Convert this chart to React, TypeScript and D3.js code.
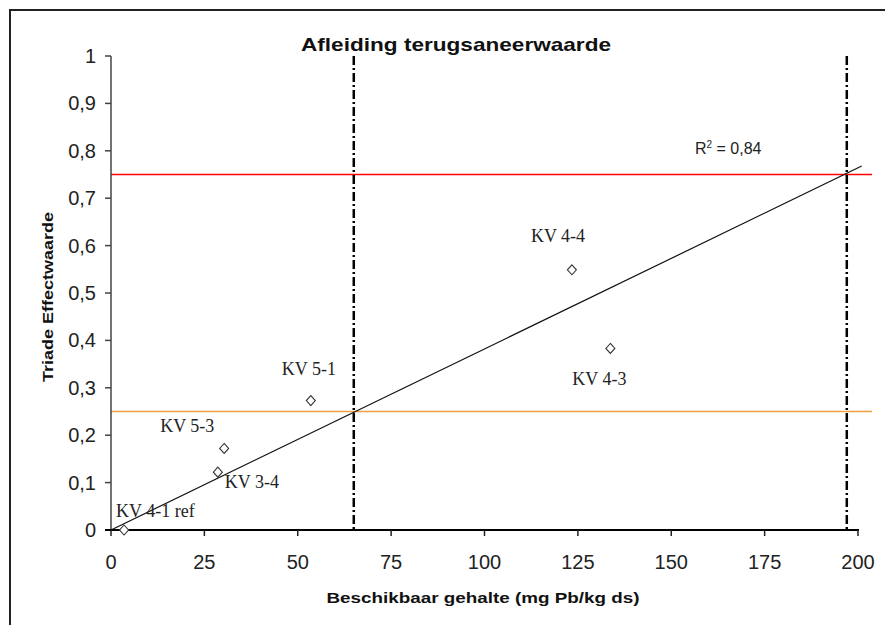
import React from "react";
import * as d3 from "d3";

const pointLabels = ["KV 4-1 ref", "KV 3-4", "KV 5-3", "KV 5-1", "KV 4-4", "KV 4-3"];
const xValues = [3.5, 28.6, 30.3, 53.5, 123.4, 133.7];
const yValues = [0.0, 0.122, 0.172, 0.273, 0.549, 0.383];
const xTicks = [0, 25, 50, 75, 100, 125, 150, 175, 200];
const yTicks = [0, 0.1, 0.2, 0.3, 0.4, 0.5, 0.6, 0.7, 0.8, 0.9, 1];
const xThresholds = [65, 197];
const yThresholdLow = 0.25;
const yThresholdHigh = 0.75;
const trendSlope = 0.00382; // fitted through origin
const trendXEnd = 201;
const r2Text = "0,84";
const title = "Afleiding terugsaneerwaarde";
const xTitle = "Beschikbaar gehalte (mg Pb/kg ds)";
const yTitle = "Triade Effectwaarde";

// label placement (offsets in px relative to point)
const labelOffsets: [number, number][] = [
  [-8, -13],
  [7, 16],
  [-64, -16],
  [-29, -26],
  [-41, -28],
  [-38, 37],
];

export default function App() {
  const W = 885;
  const H = 625;
  const x = d3.scaleLinear().domain([0, 200]).range([111, 858]);
  const y = d3.scaleLinear().domain([0, 1]).range([530, 56]);
  const fmtY = (v: number) => (v === 0 || v === 1 ? String(v) : d3.format(".1f")(v).replace(".", ","));
  const sans = "'Liberation Sans', Arial, sans-serif";
  const serif = "'Liberation Serif', 'Times New Roman', serif";
  const diamondPath = "M0,-5L4.5,0L0,5L-4.5,0Z";
  const trendLine = d3.line<number>().x((d) => x(d)).y((d) => y(d * trendSlope));

  return (
    <svg width={W} height={H} style={{ position: "absolute", left: 0, top: 0, background: "#fff" }}>
      {/* frame */}
      <line x1={10} y1={10} x2={10} y2={H} stroke="#222" strokeWidth={2} />
      <line x1={9} y1={10} x2={W} y2={10} stroke="#222" strokeWidth={2} />

      {/* title */}
      <text x={456} y={51} textAnchor="middle" fontFamily={sans} fontWeight="bold" fontSize={19}
        textLength={310} lengthAdjust="spacingAndGlyphs" fill="#111">{title}</text>

      {/* threshold lines */}
      <line x1={x(0)} x2={872} y1={y(yThresholdHigh)} y2={y(yThresholdHigh)} stroke="#ff0000" strokeWidth={1.6} />
      <line x1={x(0)} x2={872} y1={y(yThresholdLow)} y2={y(yThresholdLow)} stroke="#f0a040" strokeWidth={1.4} />
      {xThresholds.map((t, i) => (
        <line key={i} x1={x(t)} x2={x(t)} y1={y(1)} y2={y(0)} stroke="#000" strokeWidth={2.5} strokeDasharray="9,3,2,3" />
      ))}

      {/* trendline */}
      <path d={trendLine([0, trendXEnd]) || ""} stroke="#111" strokeWidth={1.2} fill="none" />

      {/* axes */}
      <line x1={x(0)} x2={x(0)} y1={y(0)} y2={y(1)} stroke="#444" strokeWidth={1.5} />
      {yTicks.map((t) => (
        <g key={t}>
          <line x1={x(0) - 6} x2={x(0)} y1={y(t)} y2={y(t)} stroke="#444" strokeWidth={1.5} />
          <text x={96} y={y(t) + 7} textAnchor="end" fontFamily={sans} fontSize={20} fill="#222">{fmtY(t)}</text>
        </g>
      ))}
      <line x1={x(0) - 6} x2={x(200) + 1} y1={y(0)} y2={y(0)} stroke="#000" strokeWidth={2.2} />
      {xTicks.map((t) => (
        <g key={t}>
          <line x1={x(t)} x2={x(t)} y1={y(0)} y2={y(0) + 6} stroke="#222" strokeWidth={1.5} />
          <text x={x(t)} y={569} textAnchor="middle" fontFamily={sans} fontSize={20} fill="#222">{t}</text>
        </g>
      ))}

      {/* axis titles */}
      <text x={483} y={603} textAnchor="middle" fontFamily={sans} fontWeight="bold" fontSize={15}
        textLength={313} lengthAdjust="spacingAndGlyphs" fill="#111">{xTitle}</text>
      <text transform={`translate(53,297) rotate(-90)`} textAnchor="middle" fontFamily={sans} fontWeight="bold" fontSize={15}
        textLength={170} lengthAdjust="spacingAndGlyphs" fill="#111">{yTitle}</text>

      {/* points */}
      {xValues.map((xv, i) => (
        <g key={i}>
          <path d={diamondPath} transform={`translate(${x(xv)},${y(yValues[i])})`} fill="#fff" stroke="#333" strokeWidth={1.1} />
          <text x={x(xv) + labelOffsets[i][0]} y={y(yValues[i]) + labelOffsets[i][1]} fontFamily={serif} fontSize={18} fill="#222">
            {pointLabels[i]}
          </text>
        </g>
      ))}

      {/* R2 */}
      <text x={695} y={154} fontFamily={sans} fontSize={16} fill="#222">
        R<tspan dy={-6} fontSize={10}>2</tspan><tspan dy={6}> = {r2Text}</tspan>
      </text>
    </svg>
  );
}
